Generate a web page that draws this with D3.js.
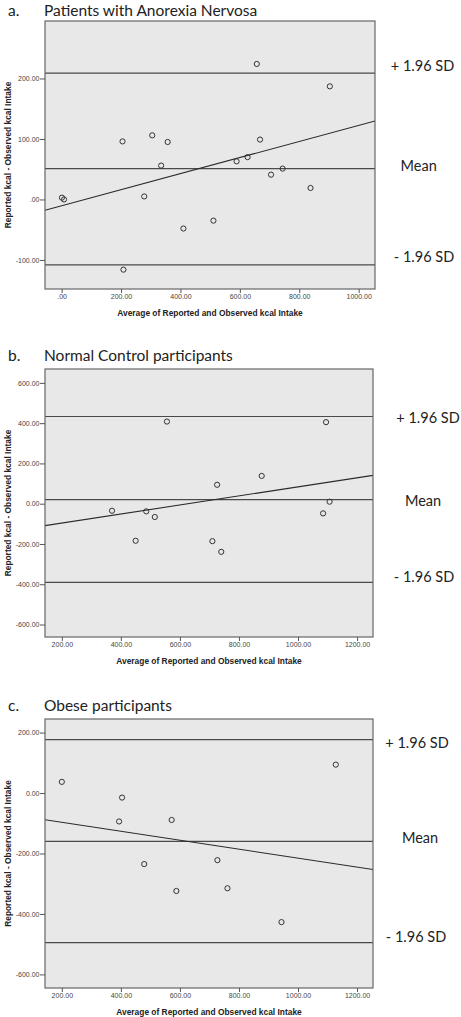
<!DOCTYPE html>
<html><head><meta charset="utf-8">
<script src="https://cdn.jsdelivr.net/npm/d3@7"></script>
<style>
html,body{margin:0;padding:0;background:#fff;}
svg{display:block;}
</style></head>
<body>
<script>
// ---- Data ----
const panelLetters = ["a.", "b.", "c."];
const panelTitles = ["Patients with Anorexia Nervosa", "Normal Control participants", "Obese participants"];
const refLineLabels = ["+ 1.96 SD", "Mean", "- 1.96 SD"];
const xAxisTitle = "Average of Reported and Observed kcal Intake";
const yAxisTitle = "Reported kcal - Observed kcal Intake";

// Panel a: Anorexia Nervosa
const aAvg  = [1, 8, 205, 208, 278, 305, 335, 357, 410, 511, 589, 626, 657, 668, 705, 744, 838, 903];
const aDiff = [3, 0, 96, -116, 5, 106, 56, 95, -48, -35, 63, 70, 224, 99, 41, 51, 19, 187];
const aLimits = [209, 51, -108];          // +1.96 SD, mean, -1.96 SD
const aFit = [-10.5, 0.133];             // intercept, slope
const aXDomain = [-56, 1055], aYDomain = [-148, 295];
const aXTicks = [0, 200, 400, 600, 800, 1000];
const aXTickLabels = [".00", "200.00", "400.00", "600.00", "800.00", "1000.00"];
const aYTicks = [-100, 0, 100, 200];
const aYTickLabels = ["-100.00", ".00", "100.00", "200.00"];

// Panel b: Normal Control
const bAvg  = [370, 450, 486, 515, 556, 710, 726, 740, 877, 1085, 1095, 1107];
const bDiff = [-35, -184, -38, -66, 408, -186, 94, -239, 138, -48, 405, 10];
const bLimits = [433, 20, -391];
const bFit = [-141.3, 0.2251];
const bXDomain = [143, 1254], bYDomain = [-662, 669];
const bXTicks = [200, 400, 600, 800, 1000, 1200];
const bXTickLabels = ["200.00", "400.00", "600.00", "800.00", "1000.00", "1200.00"];
const bYTicks = [-600, -400, -200, 0, 200, 400, 600];
const bYTickLabels = ["-600.00", "-400.00", "-200.00", "0.00", "200.00", "400.00", "600.00"];

// Panel c: Obese
const cAvg  = [200, 394, 404, 479, 572, 588, 727, 761, 944, 1128];
const cDiff = [37, -94, -15, -235, -89, -324, -222, -315, -427, 94];
const cLimits = [177, -160, -495];
const cFit = [-67.3, -0.1481];
const cXDomain = [143, 1254], cYDomain = [-645, 245];
const cXTicks = [200, 400, 600, 800, 1000, 1200];
const cXTickLabels = ["200.00", "400.00", "600.00", "800.00", "1000.00", "1200.00"];
const cYTicks = [-600, -400, -200, 0, 200];
const cYTickLabels = ["-600.00", "-400.00", "-200.00", "0.00", "200.00"];

// ---- Layout (pixel boxes of each panel and label placement) ----
const layout = [
  {left: 45, right: 375, top: 21,  bottom: 289, titleY: 15.5, labelX: [422.5, 418.7, 424], labelY: [66, 165.7, 257.3]},
  {left: 45, right: 373, top: 369, bottom: 637, titleY: 361,  labelX: [428, 423, 424],     labelY: [418.3, 501, 577.3]},
  {left: 45, right: 373, top: 719, bottom: 988, titleY: 711,  labelX: [417, 420, 416],     labelY: [743.3, 838.3, 937.3]}
];

const panels = [
  {avg: aAvg, diff: aDiff, limits: aLimits, fit: aFit, xd: aXDomain, yd: aYDomain,
   xt: aXTicks, xtl: aXTickLabels, yt: aYTicks, ytl: aYTickLabels},
  {avg: bAvg, diff: bDiff, limits: bLimits, fit: bFit, xd: bXDomain, yd: bYDomain,
   xt: bXTicks, xtl: bXTickLabels, yt: bYTicks, ytl: bYTickLabels},
  {avg: cAvg, diff: cDiff, limits: cLimits, fit: cFit, xd: cXDomain, yd: cYDomain,
   xt: cXTicks, xtl: cXTickLabels, yt: cYTicks, ytl: cYTickLabels}
];

const W = 461, H = 1017;
const svg = d3.select("body").append("svg").attr("width", W).attr("height", H);

const titleFont = "Lato, 'Open Sans', sans-serif";
const axisFont = "'Liberation Sans', Arial, sans-serif";

panels.forEach((p, i) => {
  const L = layout[i];
  const x = d3.scaleLinear().domain(p.xd).range([L.left, L.right]);
  const y = d3.scaleLinear().domain(p.yd).range([L.bottom, L.top]);
  const g = svg.append("g");

  // Title
  g.append("text").attr("x", 8).attr("y", L.titleY)
    .attr("font-family", titleFont).attr("font-size", 15.5).attr("fill", "#222")
    .text(panelLetters[i]);
  g.append("text").attr("x", 44).attr("y", L.titleY)
    .attr("font-family", titleFont).attr("font-size", 15.5).attr("fill", "#222")
    .text(panelTitles[i]);

  // Plot background
  g.append("rect").attr("x", L.left).attr("y", L.top)
    .attr("width", L.right - L.left).attr("height", L.bottom - L.top)
    .attr("fill", "#e8e8e8").attr("stroke", "none");

  const clip = "clip" + i;
  svg.append("clipPath").attr("id", clip).append("rect")
    .attr("x", L.left).attr("y", L.top)
    .attr("width", L.right - L.left).attr("height", L.bottom - L.top);

  // Reference lines
  g.selectAll(".lim").data(p.limits).enter().append("line")
    .attr("x1", L.left).attr("x2", L.right)
    .attr("y1", d => y(d)).attr("y2", d => y(d))
    .attr("stroke", "#4a4a4a").attr("stroke-width", 1.2);

  // Regression line
  const fx = p.xd;
  g.append("line").attr("clip-path", `url(#${clip})`)
    .attr("x1", x(fx[0])).attr("y1", y(p.fit[0] + p.fit[1] * fx[0]))
    .attr("x2", x(fx[1])).attr("y2", y(p.fit[0] + p.fit[1] * fx[1]))
    .attr("stroke", "#2a2a2a").attr("stroke-width", 1.1);

  // Points
  g.selectAll(".pt").data(p.avg.map((v, k) => [v, p.diff[k]])).enter().append("circle")
    .attr("cx", d => x(d[0])).attr("cy", d => y(d[1])).attr("r", 2.6)
    .attr("fill", "none").attr("stroke", "#333").attr("stroke-width", 1);

  // Frame
  g.append("rect").attr("x", L.left).attr("y", L.top)
    .attr("width", L.right - L.left).attr("height", L.bottom - L.top)
    .attr("fill", "none").attr("stroke", "#666").attr("stroke-width", 1.2);

  // Axes
  const xAxis = d3.axisBottom(x).tickValues(p.xt)
    .tickFormat((d, k) => p.xtl[k]).tickSize(4).tickSizeOuter(0);
  const gx = g.append("g").attr("transform", `translate(0,${L.bottom})`).call(xAxis);
  gx.select(".domain").remove();
  gx.selectAll("line").attr("stroke", "#555");
  gx.selectAll("text").attr("font-family", axisFont).attr("font-size", 7)
    .attr("fill", "#444").attr("dy", "0.95em").attr("y", 3);

  const yAxis = d3.axisLeft(y).tickValues(p.yt)
    .tickFormat((d, k) => p.ytl[k]).tickSize(5).tickSizeOuter(0);
  const gy = g.append("g").attr("transform", `translate(${L.left},0)`).call(yAxis);
  gy.select(".domain").remove();
  gy.selectAll("line").attr("stroke", "#555");
  gy.selectAll("text").attr("font-family", axisFont).attr("font-size", 7)
    .attr("fill", "#444").attr("x", -5.5);

  // Axis titles
  g.append("text").attr("x", (L.left + L.right) / 2).attr("y", L.bottom + 26.5)
    .attr("text-anchor", "middle").attr("font-family", axisFont)
    .attr("font-weight", "bold").attr("font-size", 8.4).attr("fill", "#222")
    .text(xAxisTitle);
  g.append("text")
    .attr("transform", `translate(11,${(L.top + L.bottom) / 2}) rotate(-90)`)
    .attr("text-anchor", "middle").attr("font-family", axisFont)
    .attr("font-weight", "bold").attr("font-size", 8.4).attr("fill", "#222")
    .text(yAxisTitle);

  // Right-side labels
  g.selectAll(".rl").data(refLineLabels).enter().append("text")
    .attr("x", (d, k) => L.labelX[k]).attr("y", (d, k) => L.labelY[k])
    .attr("dy", "0.35em").attr("text-anchor", "middle")
    .attr("font-family", titleFont).attr("font-size", 14.5).attr("fill", "#222")
    .text(d => d);
});
</script>
</body></html>
